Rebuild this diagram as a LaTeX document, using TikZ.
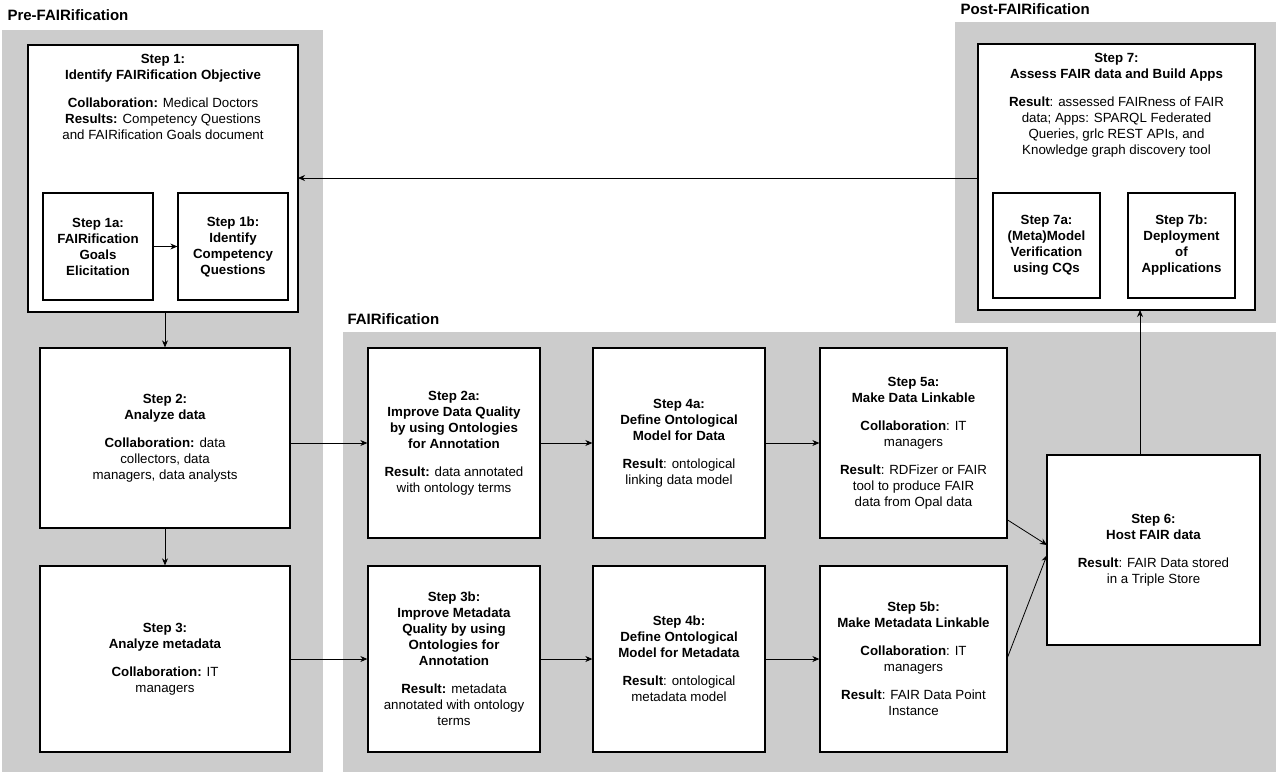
\documentclass[tikz,border=0pt]{standalone}
\usepackage{fontspec}
\setmainfont{Liberation Sans}
\usetikzlibrary{arrows.meta}
\definecolor{panel}{RGB}{204,204,204}
\begin{document}
\begin{tikzpicture}[x=1pt,y=-1pt,
  box/.style={draw, line width=1.3pt, fill=white, inner sep=0pt},
  txt/.style={align=center, font=\fontsize{13.3}{16}\selectfont, inner sep=0pt},
  title/.style={anchor=west, font=\fontsize{15}{17}\selectfont\bfseries},
  flow/.style={-{Stealth[length=7pt,width=6pt]}, line width=0.8pt}]
  \useasboundingbox (0,0) rectangle (1280,777);
  % panels
  \fill[panel] (2,30) rectangle (323,772);
  \fill[panel] (955,22) rectangle (1276,323);
  \fill[panel] (343,332) rectangle (1276,772);
  \node[title] (tpre) at (4,15) {Pre-FAIRification};
  \node[title] (tpost) at (957,9) {Post-FAIRification};
  \node[title] (tfair) at (344,319) {FAIRification};
  % boxes
  \draw[box] (28,45) rectangle (298,312);
  \coordinate (s1) at (298,178);
  \node[txt, anchor=north] (s1t) at (163,54) {\textbf{Step 1:}\\\textbf{Identify FAIRification Objective}\\[12pt]
    \textbf{Collaboration:} Medical Doctors\\\textbf{Results:} Competency Questions\\and FAIRification Goals document};
  \node[box, txt, minimum width=110, minimum height=107] (s1a) at (98,246.5) {\textbf{Step 1a:}\\\textbf{FAIRification}\\\textbf{Goals}\\\textbf{Elicitation}};
  \node[box, txt, minimum width=110, minimum height=107] (s1b) at (233,246.5) {\textbf{Step 1b:}\\\textbf{Identify}\\\textbf{Competency}\\\textbf{Questions}};
  \node[box, txt, minimum width=250, minimum height=180] (s2) at (165,438) {\textbf{Step 2:}\\\textbf{Analyze data}\\[12pt]
    \textbf{Collaboration:} data\\collectors, data\\managers, data analysts};
  \node[box, txt, minimum width=250, minimum height=186] (s3) at (165,659) {\textbf{Step 3:}\\\textbf{Analyze metadata}\\[12pt]
    \textbf{Collaboration:} IT\\managers};
  \node[box, txt, minimum width=172, minimum height=190] (s2a) at (454,443) {\textbf{Step 2a:}\\\textbf{Improve Data Quality}\\\textbf{by using Ontologies}\\\textbf{for Annotation}\\[12pt]
    \textbf{Result:} data annotated\\with ontology terms};
  \node[box, txt, minimum width=172, minimum height=190] (s4a) at (679,443) {\textbf{Step 4a:}\\\textbf{Define Ontological}\\\textbf{Model for Data}\\[12pt]
    \textbf{Result}: ontological\\linking data model};
  \node[box, txt, minimum width=187, minimum height=190] (s5a) at (913.5,443) {\textbf{Step 5a:}\\\textbf{Make Data Linkable}\\[12pt]
    \textbf{Collaboration}: IT\\managers\\[12pt]\textbf{Result}: RDFizer or FAIR\\tool to produce FAIR\\data from Opal data};
  \node[box, txt, minimum width=172, minimum height=186] (s3b) at (454,659) {\textbf{Step 3b:}\\\textbf{Improve Metadata}\\\textbf{Quality by using}\\\textbf{Ontologies for}\\\textbf{Annotation}\\[12pt]
    \textbf{Result:} metadata\\annotated with ontology\\terms};
  \node[box, txt, minimum width=172, minimum height=186] (s4b) at (679,659) {\textbf{Step 4b:}\\\textbf{Define Ontological}\\\textbf{Model for Metadata}\\[12pt]
    \textbf{Result}: ontological\\metadata model};
  \node[box, txt, minimum width=187, minimum height=186] (s5b) at (913.5,659) {\textbf{Step 5b:}\\\textbf{Make Metadata Linkable}\\[12pt]
    \textbf{Collaboration}: IT\\managers\\[12pt]\textbf{Result}: FAIR Data Point\\Instance};
  \node[box, txt, minimum width=213, minimum height=190] (s6) at (1153.5,550) {\textbf{Step 6:}\\\textbf{Host FAIR data}\\[12pt]
    \textbf{Result}: FAIR Data stored\\in a Triple Store};
  \draw[box] (978,44) rectangle (1255,310);
  \coordinate (s7w) at (978,178);
  \coordinate (s7s) at (1140,310);
  \node[txt, anchor=north] (s7t) at (1116.5,53) {\textbf{Step 7:}\\\textbf{Assess FAIR data and Build Apps}\\[12pt]
    \textbf{Result}: assessed FAIRness of FAIR\\data; Apps: SPARQL Federated\\Queries, grlc REST APIs, and\\Knowledge graph discovery tool};
  \node[box, txt, minimum width=107, minimum height=105] (s7a) at (1046.5,245.5) {\textbf{Step 7a:}\\\textbf{(Meta)Model}\\\textbf{Verification}\\\textbf{using CQs}};
  \node[box, txt, minimum width=107, minimum height=105] (s7b) at (1181.5,245.5) {\textbf{Step 7b:}\\\textbf{Deployment}\\\textbf{of}\\\textbf{Applications}};
  % connectors
  \coordinate (s1s) at (165,312);
  \draw[flow] (s1s) -- (s2);
  \draw[flow] (s2) -- (s3);
  \draw[flow] (s1a) -- (s1b);
  \draw[flow] (s2.east |- s2a) -- (s2a);
  \draw[flow] (s2a) -- (s4a);
  \draw[flow] (s4a) -- (s5a);
  \draw[flow] (s3) -- (s3b);
  \draw[flow] (s3b) -- (s4b);
  \draw[flow] (s4b) -- (s5b);
  \draw[flow] (s5a.east |- 0,520) -- (1047,545);
  \draw[flow] (s5b.east |- 0,657) -- (1047,555);
  \draw[flow] (s6.north -| s7s) -- (s7s);
  \draw[flow] (s7w) -- (s1);
\end{tikzpicture}
\end{document}
